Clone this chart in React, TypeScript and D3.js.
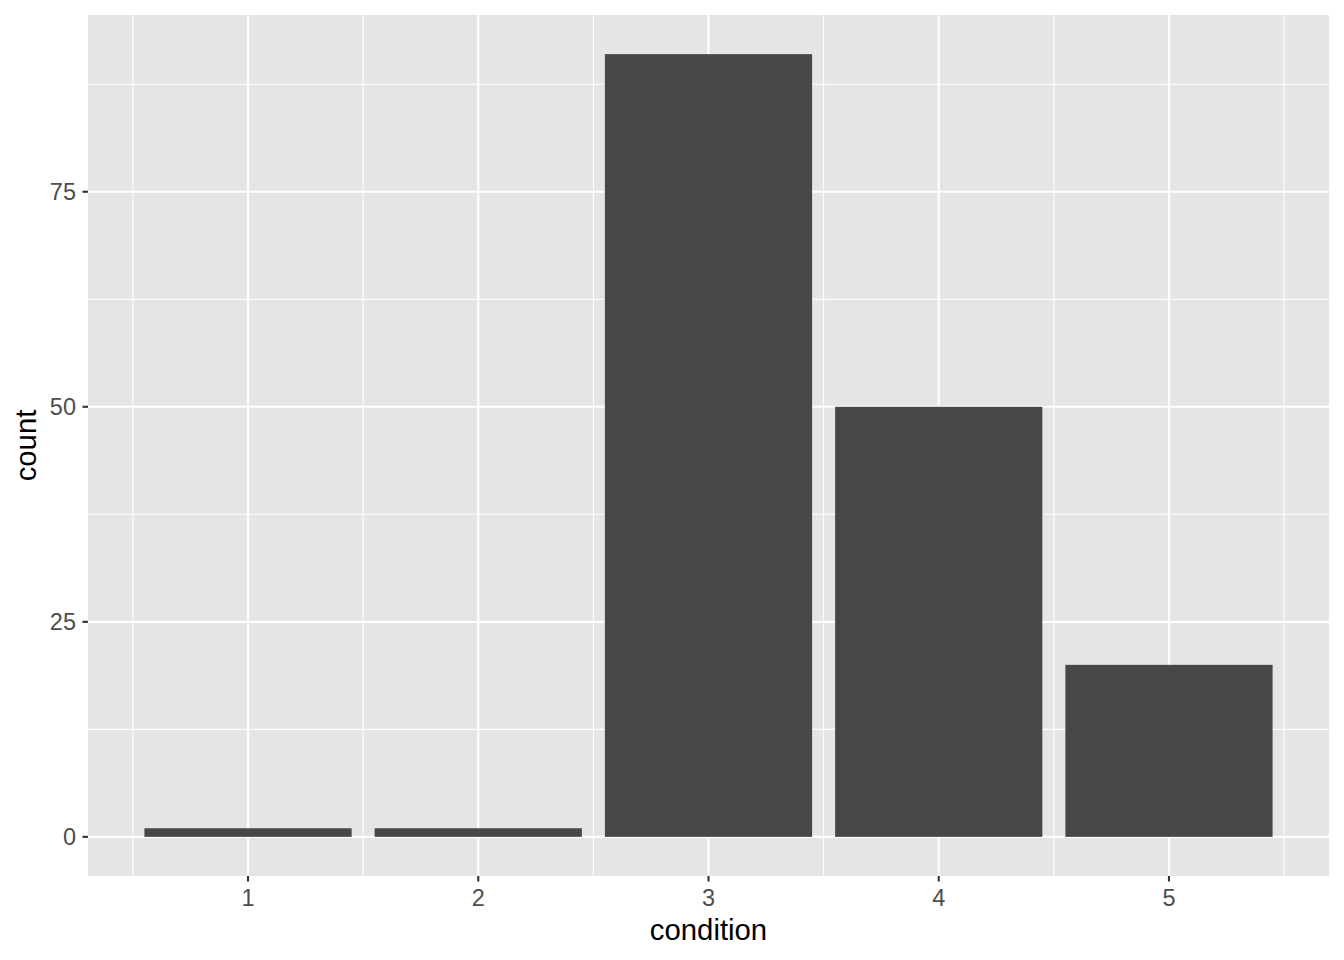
import React from "react";
import * as d3 from "d3";

const categories = [1, 2, 3, 4, 5];
const counts = [1, 1, 91, 50, 20];
const yTicks = [0, 25, 50, 75];
const yMinor = [12.5, 37.5, 62.5, 87.5];
const xMinor = [0.5, 1.5, 2.5, 3.5, 4.5, 5.5];

const W = 1344, H = 960;
const panel = { left: 88, right: 1329, top: 15, bottom: 876 };

export default function App() {
  const xData: [number, number] = [0.55, 5.45];
  const xPad = (xData[1] - xData[0]) * 0.05;
  const x = d3.scaleLinear().domain([xData[0] - xPad, xData[1] + xPad]).range([panel.left, panel.right]);
  const yMax = d3.max(counts) as number;
  const yPad = yMax * 0.05;
  const y = d3.scaleLinear().domain([-yPad, yMax + yPad]).range([panel.bottom, panel.top]);
  const bw = 0.9;
  const font = "Liberation Sans, Arial, Helvetica, sans-serif";
  return (
    <svg width={W} height={H} style={{ position: "absolute", left: 0, top: 0 }} fontFamily={font}>
      <rect x={0} y={0} width={W} height={H} fill="#ffffff" />
      <rect x={panel.left} y={panel.top} width={panel.right - panel.left} height={panel.bottom - panel.top} fill="#e5e5e5" />
      {yMinor.map((v) => (
        <line key={"ym" + v} x1={panel.left} x2={panel.right} y1={y(v)} y2={y(v)} stroke="#fff" strokeWidth={1.07} />
      ))}
      {xMinor.map((v) => (
        <line key={"xm" + v} y1={panel.top} y2={panel.bottom} x1={x(v)} x2={x(v)} stroke="#fff" strokeWidth={1.07} />
      ))}
      {yTicks.map((v) => (
        <line key={"yM" + v} x1={panel.left} x2={panel.right} y1={y(v)} y2={y(v)} stroke="#fff" strokeWidth={2.13} />
      ))}
      {categories.map((v) => (
        <line key={"xM" + v} y1={panel.top} y2={panel.bottom} x1={x(v)} x2={x(v)} stroke="#fff" strokeWidth={2.13} />
      ))}
      {categories.map((c, i) => (
        <rect key={"b" + c} x={x(c - bw / 2)} width={x(c + bw / 2) - x(c - bw / 2)} y={y(counts[i])} height={y(0) - y(counts[i])} fill="#474747" />
      ))}
      {yTicks.map((v) => (
        <g key={"yt" + v}>
          <line x1={panel.left - 5.5} x2={panel.left} y1={y(v)} y2={y(v)} stroke="#333333" strokeWidth={2.13} />
          <text x={panel.left - 12} y={y(v)} dy="0.36em" textAnchor="end" fontSize={23.5} fill="#4d4d4d">{v}</text>
        </g>
      ))}
      {categories.map((v) => (
        <g key={"xt" + v}>
          <line y1={panel.bottom} y2={panel.bottom + 5.5} x1={x(v)} x2={x(v)} stroke="#333333" strokeWidth={2.13} />
          <text x={x(v)} y={906} textAnchor="middle" fontSize={23.5} fill="#4d4d4d">{v}</text>
        </g>
      ))}
      <text x={(panel.left + panel.right) / 2} y={940} textAnchor="middle" fontSize={29.3} fill="#000">condition</text>
      <text transform={`translate(36, ${(panel.top + panel.bottom) / 2}) rotate(-90)`} textAnchor="middle" fontSize={29.3} fill="#000">count</text>
    </svg>
  );
}
